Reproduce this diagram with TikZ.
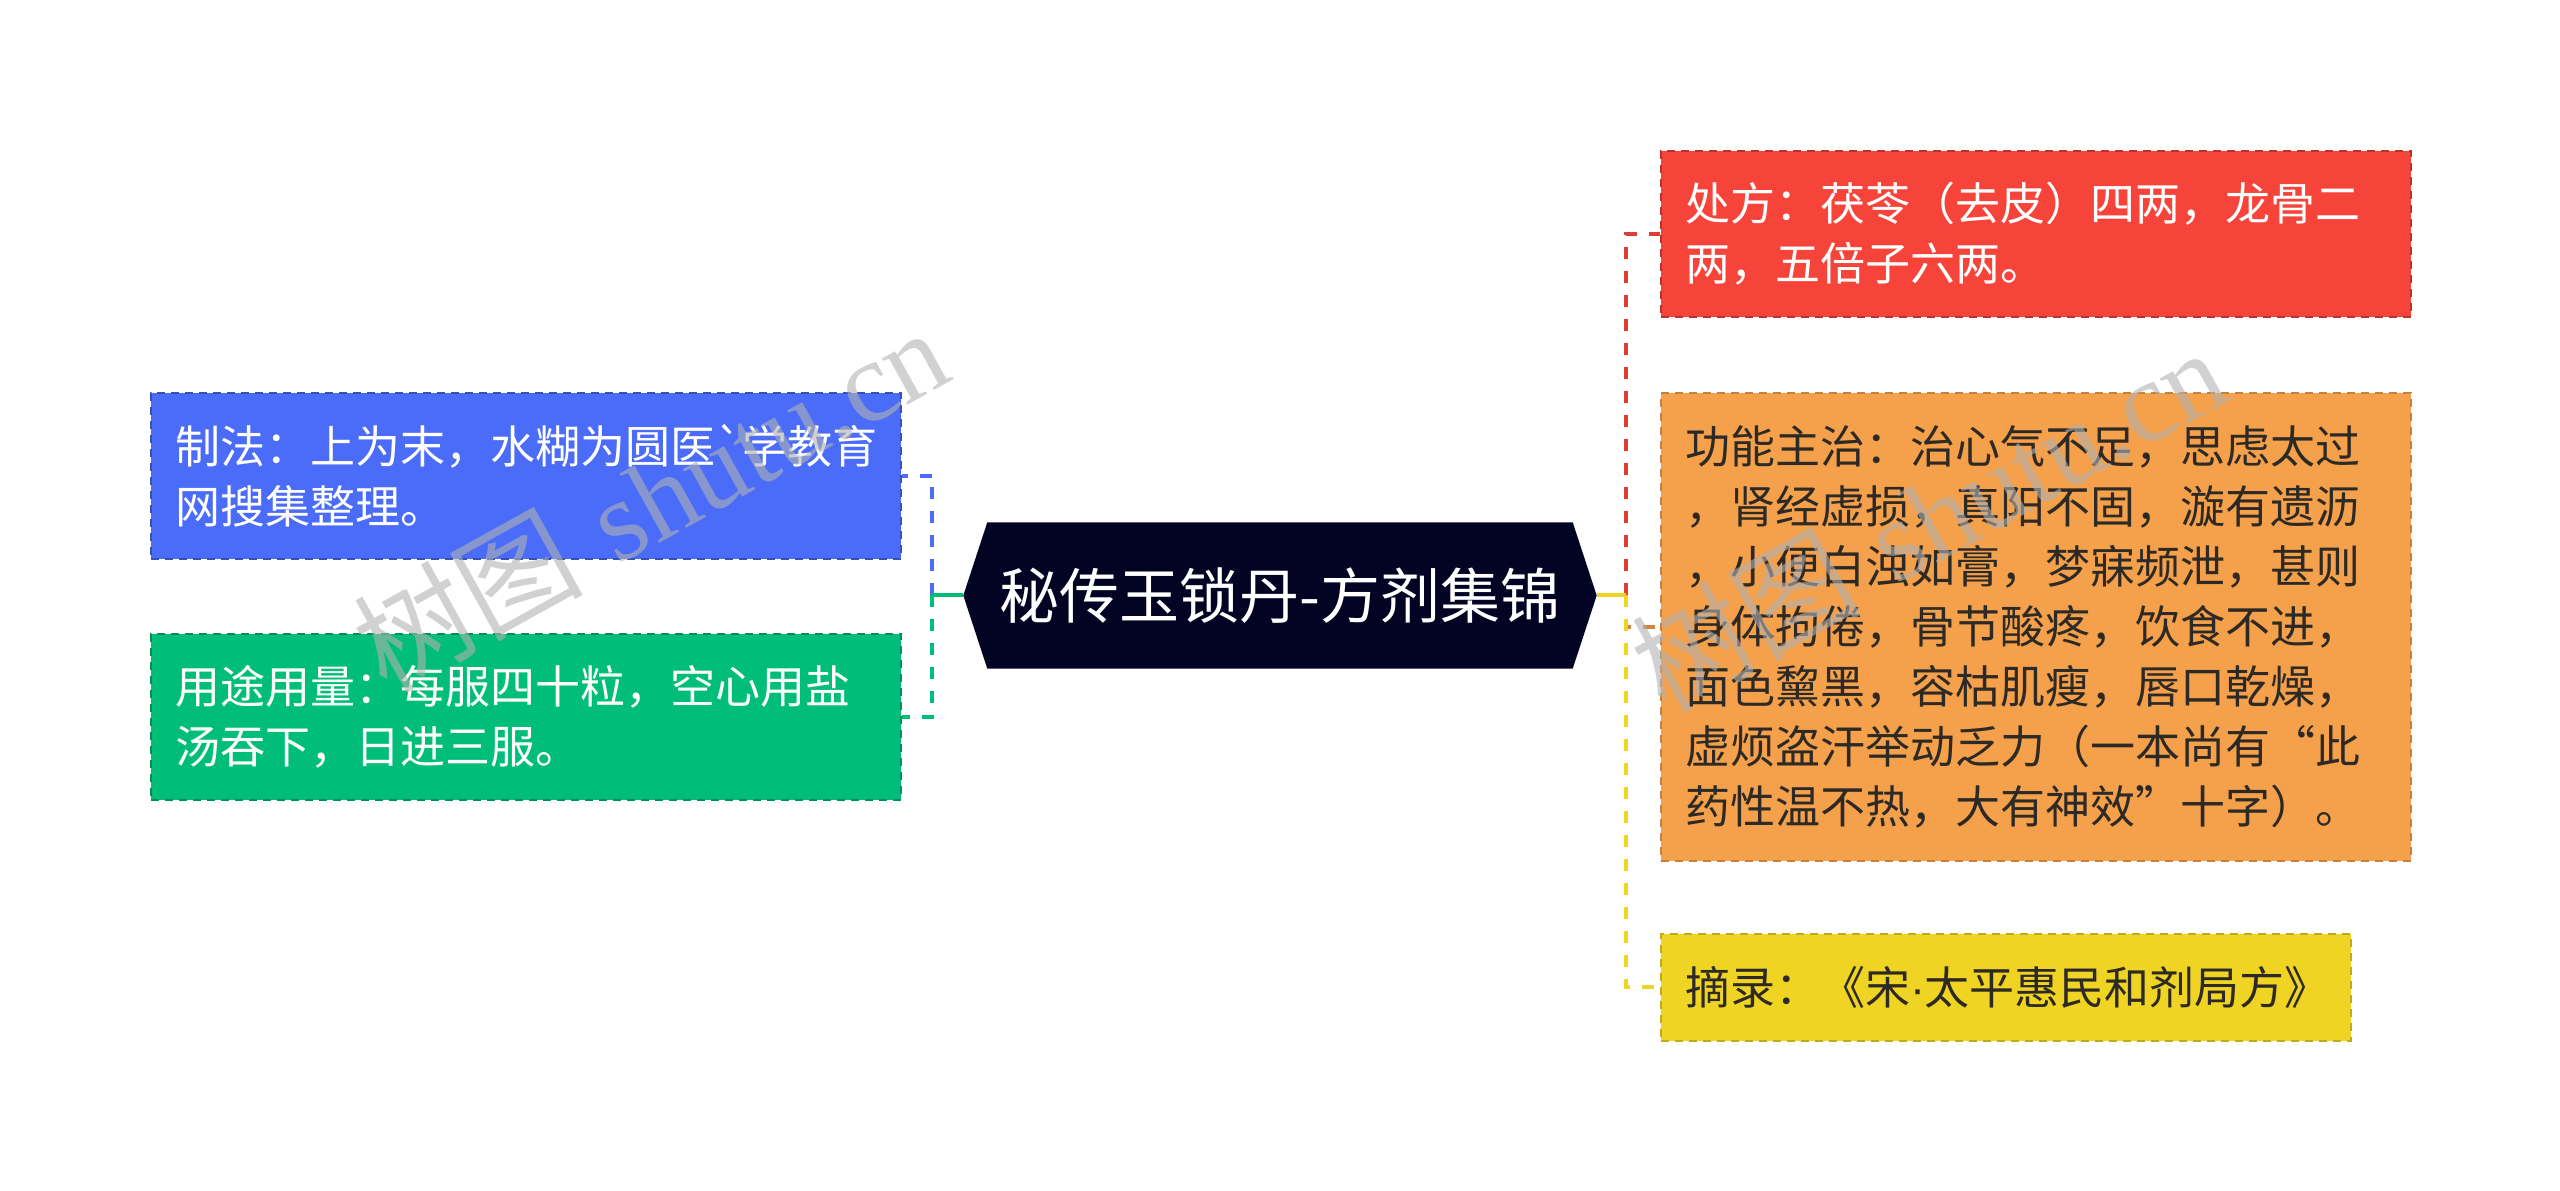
\documentclass[tikz,border=0pt]{standalone}
\usepackage{fontspec}
\newfontfamily\cjkfont{Noto Sans CJK SC}
\newfontfamily\markfont{Liberation Serif}
\newfontfamily\latinfont{Liberation Sans}
\usetikzlibrary{backgrounds}

\definecolor{rootnavy}{RGB}{3,4,36}
\definecolor{leafblue}{RGB}{74,108,248}
\definecolor{leafgreen}{RGB}{0,190,122}
\definecolor{leafred}{RGB}{246,68,58}
\definecolor{leaforange}{RGB}{245,160,75}
\definecolor{leafyellow}{RGB}{240,212,35}
\definecolor{inkdark}{RGB}{45,42,38}

\begin{document}
\begin{tikzpicture}[
		x=1mm,y=-1mm,
		every node/.style={font=\cjkfont\fontsize{4.5mm}{6mm}\selectfont},
		leaf/.style={anchor=north west, align=left, line width=0.2mm,
			dash pattern=on 0.8mm off 0.6mm,
			inner xsep=2.4mm, inner ysep=0mm,
			minimum width=75mm, text width=70.2mm},
		link/.style={line width=0.4mm, dash pattern=on 1.2mm off 1.2mm},
		stem/.style={line width=0.4mm},
		title/.style={font=\cjkfont\fontsize{6mm}{7mm}\selectfont, text=white,
			inner sep=0mm, minimum width=58.4mm, minimum height=14.5mm},
		watermark/.style={text=black!30, opacity=0.6, rotate=29,
			font=\fontsize{11.5mm}{12mm}\selectfont}
		]
		
		\useasboundingbox (0,0) rectangle (256,119.1);
		
		% =========================
		% root
		% =========================
		\node[title] (root) at (128,59.55) {秘传玉锁丹-方剂集锦};
		\begin{scope}[on background layer]
			\fill[rootnavy] (root.north west) -- (root.north east)
			-- ([xshift=2.4mm]root.east) -- (root.south east)
			-- (root.south west) -- ([xshift=-2.4mm]root.west) -- cycle;
		\end{scope}
		
		% =========================
		% left leaves
		% =========================
		\node[leaf, fill=leafblue, draw=leafblue!75!black, text=white,
		minimum height=16.6mm] (zhifa) at (15,39.2)
		{制法：上为末，水糊为圆医`学教育\\网搜集整理。};
		\node[leaf, fill=leafgreen, draw=leafgreen!75!black, text=white,
		minimum height=16.6mm] (yongtu) at (15,63.3)
		{用途用量：每服四十粒，空心用盐\\汤吞下，日进三服。};
		
		% =========================
		% right leaves
		% =========================
		\node[leaf, fill=leafred, draw=leafred!75!black, text=white,
		minimum height=16.6mm] (chufang) at (166,15.0)
		{处方：茯苓（去皮）四两，龙骨二\\两，五倍子六两。};
		\node[leaf, fill=leaforange, draw=leaforange!80!black, text=inkdark,
		minimum height=46.8mm] (gongneng) at (166,39.2)
		{功能主治：治心气不足，思虑太过\\
			，肾经虚损，真阳不固，漩有遗沥\\
			，小便白浊如膏，梦寐频泄，甚则\\
			身体拘倦，骨节酸疼，饮食不进，\\
			面色黧黑，容枯肌瘦，唇口乾燥，\\
			虚烦盗汗举动乏力（一本尚有“此\\
			药性温不热，大有神效”十字）。};
		\node[leaf, fill=leafyellow, draw=leafyellow!80!black, text=inkdark,
		minimum height=10.7mm, minimum width=69mm, text width=64.2mm] (zhailu) at (166,93.3)
		{摘录：《宋{\latinfont ·}太平惠民和剂局方》};
		
		% =========================
		% connectors
		% =========================
		\coordinate (jl) at (93.2,59.55);
		\coordinate (jr) at (162.6,59.55);
		
		\draw[link, leafblue] (jl) |- (zhifa.east);
		\draw[link, leafgreen] (jl) |- (yongtu.east);
		\draw[stem, leafgreen] ([xshift=-2.4mm]root.west) -- (jl);
		
		\draw[link, leaforange!85!black] (jr) |- (gongneng.west);
		\draw[link, leafyellow] (jr) |- (zhailu.west);
		\draw[link, leafred!90!black] (jr) |- (chufang.west);
		\draw[stem, leafyellow] ([xshift=2.4mm]root.east) -- (jr);
		
		% watermark
		\node[watermark] (markL) at (65,49.8) {{\cjkfont 树图} {\markfont shutu.cn}};
		\node[watermark] (markR) at (192.8,51.8) {{\cjkfont 树图} {\markfont shutu.cn}};
		
	\end{tikzpicture}
\end{document}
